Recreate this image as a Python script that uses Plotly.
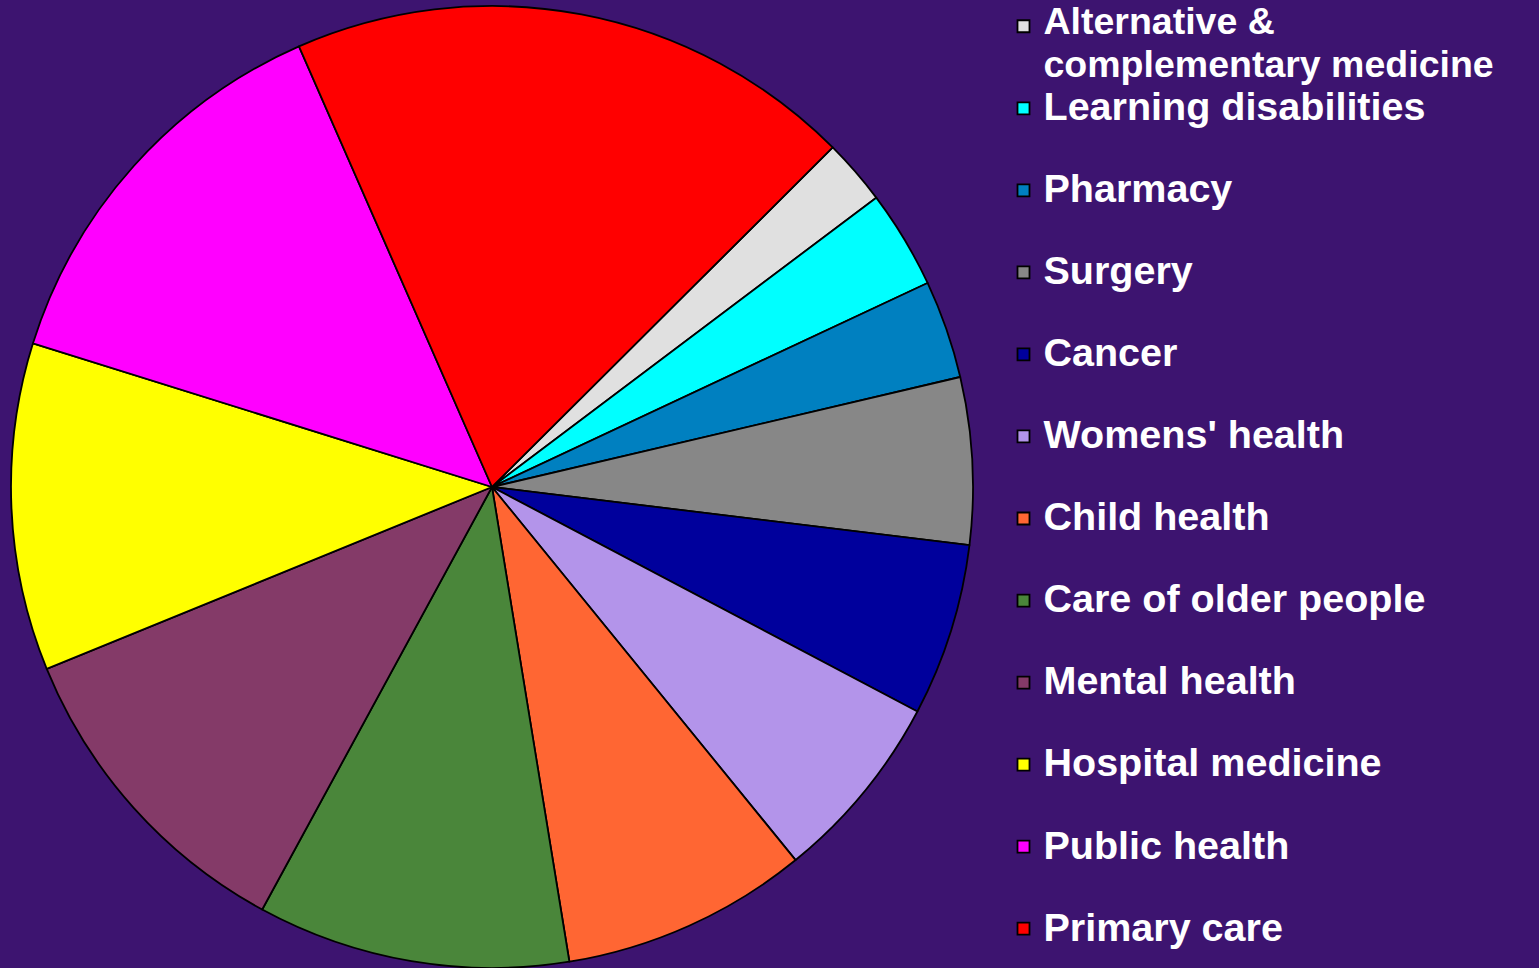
import textwrap
import plotly.graph_objects as go

# ---- data ----
categories = [
    "Alternative & complementary medicine",
    "Learning disabilities",
    "Pharmacy",
    "Surgery",
    "Cancer",
    "Womens' health",
    "Child health",
    "Care of older people",
    "Mental health",
    "Hospital medicine",
    "Public health",
    "Primary care",
]
shares = [2.2, 3.3, 3.3, 5.6, 5.8, 6.4, 8.3, 10.5, 10.9, 11.0, 13.6, 19.1]

slice_colors = [
    "#e0e0e0", "#00ffff", "#0080c0", "#878787", "#00009c", "#b394ea",
    "#ff6633", "#4a863a", "#843a68", "#ffff00", "#ff00ff", "#ff0000",
]

# ---- styling ----
W, H = 1539, 968
BG = "#3d1470"
LEGEND_BASE = 30.4      # controls legend line height / item spacing
TEXT_PX = 39.5          # visible legend text size
WRAP_PX = 37.5          # size for the wrapped (two-line) entry
WRAP_SHIFTS = [4.2, 1.4]  # lift the wrapped lines so they stay clear of each other


def legend_label(name, i, n):
    lines = textwrap.wrap(name, width=24)
    if len(lines) == 1:
        lab = f"<span style='font-size:{TEXT_PX}px'>{lines[0]}</span>"
        if i < n - 1:
            lab += "<br>\u00a0"
        return lab
    return "<br>".join(
        f"<span style='font-size:{WRAP_PX}px;baseline-shift:{sh}px'>{ln}</span>"
        for ln, sh in zip(lines, WRAP_SHIFTS)
    )


labels = [legend_label(c, i, len(categories)) for i, c in enumerate(categories)]

fig = go.Figure(
    go.Pie(
        labels=labels,
        values=shares,
        sort=False,
        direction="clockwise",
        rotation=45.1,
        marker=dict(colors=slice_colors, line=dict(color="#000000", width=1.8)),
        textinfo="none",
        hoverinfo="skip",
        domain=dict(x=[0, 984 / W], y=[0, 1 - 6 / H]),
    )
)

fig.update_layout(
    width=W,
    height=H,
    margin=dict(l=0, r=0, t=0, b=0, autoexpand=False),
    paper_bgcolor=BG,
    plot_bgcolor=BG,
    showlegend=True,
    legend=dict(
        x=1003.5 / W,
        xanchor="left",
        y=1,
        yanchor="top",
        valign="top",
        bgcolor="rgba(0,0,0,0)",
        maxheight=H,
        font=dict(family="Liberation Sans, Arial, sans-serif", size=LEGEND_BASE,
                  color="#ffffff", weight="bold"),
    ),
)

fig.write_html(
    "out.html",
    config={"displayModeBar": False},
    post_script="document.body.style.margin='0';document.body.style.overflow='hidden';"
                "document.body.style.background='" + BG + "';",
)
